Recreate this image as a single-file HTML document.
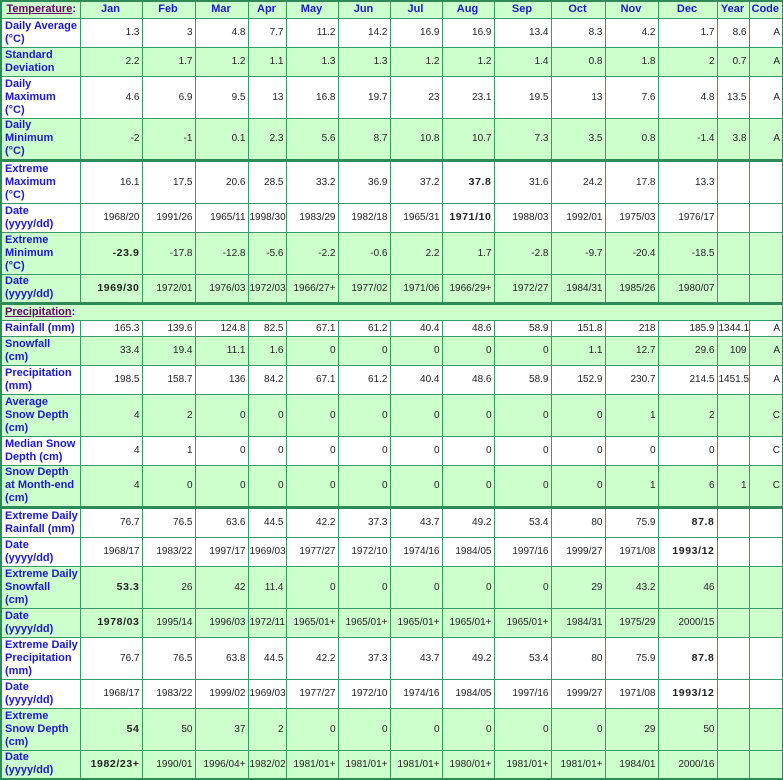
<!DOCTYPE html>
<html><head><meta charset="utf-8"><style>
html,body{margin:0;padding:0;background:#fff;width:783px;height:780px;overflow:hidden}
table{border-collapse:collapse;table-layout:fixed;position:absolute;left:0;top:0;width:782px;border:2px solid #2e8b57;font-family:"Liberation Sans",Arial,sans-serif;font-size:10px;color:#222}
td{border:1px solid #3a9a68;padding:0 2px 0 1px;text-align:right;vertical-align:middle;overflow:hidden;white-space:nowrap;line-height:13px}
td:first-child{text-align:left;font-weight:bold;color:#1a1acc;padding-left:3px;font-size:11px}
tr.g td{background:#ccffcc}
tr.h td{text-align:center;font-weight:bold;color:#1a1acc;font-size:11px}
tr.s td{border-top:3px solid #2e8b57}
b{letter-spacing:0.6px;font-size:10.5px}
u{color:#660066}
</style></head><body>
<table>
<colgroup><col style="width:79px"><col style="width:62px"><col style="width:53px"><col style="width:53px"><col style="width:38px"><col style="width:52px"><col style="width:52px"><col style="width:52px"><col style="width:52px"><col style="width:57px"><col style="width:54px"><col style="width:53px"><col style="width:59px"><col style="width:32px"><col style="width:34px"></colgroup>
<tr class="g h" style="height:17px"><td><u>Temperature</u>:</td><td>Jan</td><td>Feb</td><td>Mar</td><td>Apr</td><td>May</td><td>Jun</td><td>Jul</td><td>Aug</td><td>Sep</td><td>Oct</td><td>Nov</td><td>Dec</td><td>Year</td><td>Code</td></tr>
<tr style="height:29px"><td>Daily Average<br>(°C)</td><td>1.3</td><td>3</td><td>4.8</td><td>7.7</td><td>11.2</td><td>14.2</td><td>16.9</td><td>16.9</td><td>13.4</td><td>8.3</td><td>4.2</td><td>1.7</td><td>8.6</td><td>A</td></tr>
<tr class="g" style="height:29px"><td>Standard<br>Deviation</td><td>2.2</td><td>1.7</td><td>1.2</td><td>1.1</td><td>1.3</td><td>1.3</td><td>1.2</td><td>1.2</td><td>1.4</td><td>0.8</td><td>1.8</td><td>2</td><td>0.7</td><td>A</td></tr>
<tr style="height:42px"><td>Daily<br>Maximum<br>(°C)</td><td>4.6</td><td>6.9</td><td>9.5</td><td>13</td><td>16.8</td><td>19.7</td><td>23</td><td>23.1</td><td>19.5</td><td>13</td><td>7.6</td><td>4.8</td><td>13.5</td><td>A</td></tr>
<tr class="g" style="height:42px"><td>Daily<br>Minimum<br>(°C)</td><td>-2</td><td>-1</td><td>0.1</td><td>2.3</td><td>5.6</td><td>8.7</td><td>10.8</td><td>10.7</td><td>7.3</td><td>3.5</td><td>0.8</td><td>-1.4</td><td>3.8</td><td>A</td></tr>
<tr class="s" style="height:43px"><td>Extreme<br>Maximum<br>(°C)</td><td>16.1</td><td>17.5</td><td>20.6</td><td>28.5</td><td>33.2</td><td>36.9</td><td>37.2</td><td><b>37.8</b></td><td>31.6</td><td>24.2</td><td>17.8</td><td>13.3</td><td></td><td></td></tr>
<tr style="height:29px"><td>Date<br>(yyyy/dd)</td><td>1968/20</td><td>1991/26</td><td>1965/11</td><td>1998/30</td><td>1983/29</td><td>1982/18</td><td>1965/31</td><td><b>1971/10</b></td><td>1988/03</td><td>1992/01</td><td>1975/03</td><td>1976/17</td><td></td><td></td></tr>
<tr class="g" style="height:42px"><td>Extreme<br>Minimum<br>(°C)</td><td><b>-23.9</b></td><td>-17.8</td><td>-12.8</td><td>-5.6</td><td>-2.2</td><td>-0.6</td><td>2.2</td><td>1.7</td><td>-2.8</td><td>-9.7</td><td>-20.4</td><td>-18.5</td><td></td><td></td></tr>
<tr class="g" style="height:29px"><td>Date<br>(yyyy/dd)</td><td><b>1969/30</b></td><td>1972/01</td><td>1976/03</td><td>1972/03</td><td>1966/27+</td><td>1977/02</td><td>1971/06</td><td>1966/29+</td><td>1972/27</td><td>1984/31</td><td>1985/26</td><td>1980/07</td><td></td><td></td></tr>
<tr class="g s" style="height:17px"><td colspan="15" style="color:#1a1acc"><u>Precipitation</u>:</td></tr>
<tr style="height:16px"><td>Rainfall (mm)</td><td>165.3</td><td>139.6</td><td>124.8</td><td>82.5</td><td>67.1</td><td>61.2</td><td>40.4</td><td>48.6</td><td>58.9</td><td>151.8</td><td>218</td><td>185.9</td><td>1344.1</td><td>A</td></tr>
<tr class="g" style="height:29px"><td>Snowfall<br>(cm)</td><td>33.4</td><td>19.4</td><td>11.1</td><td>1.6</td><td>0</td><td>0</td><td>0</td><td>0</td><td>0</td><td>1.1</td><td>12.7</td><td>29.6</td><td>109</td><td>A</td></tr>
<tr style="height:29px"><td>Precipitation<br>(mm)</td><td>198.5</td><td>158.7</td><td>136</td><td>84.2</td><td>67.1</td><td>61.2</td><td>40.4</td><td>48.6</td><td>58.9</td><td>152.9</td><td>230.7</td><td>214.5</td><td>1451.5</td><td>A</td></tr>
<tr class="g" style="height:42px"><td>Average<br>Snow Depth<br>(cm)</td><td>4</td><td>2</td><td>0</td><td>0</td><td>0</td><td>0</td><td>0</td><td>0</td><td>0</td><td>0</td><td>1</td><td>2</td><td></td><td>C</td></tr>
<tr style="height:29px"><td>Median Snow<br>Depth (cm)</td><td>4</td><td>1</td><td>0</td><td>0</td><td>0</td><td>0</td><td>0</td><td>0</td><td>0</td><td>0</td><td>0</td><td>0</td><td></td><td>C</td></tr>
<tr class="g" style="height:42px"><td>Snow Depth<br>at Month-end<br>(cm)</td><td>4</td><td>0</td><td>0</td><td>0</td><td>0</td><td>0</td><td>0</td><td>0</td><td>0</td><td>0</td><td>1</td><td>6</td><td>1</td><td>C</td></tr>
<tr class="s" style="height:30px"><td>Extreme Daily<br>Rainfall (mm)</td><td>76.7</td><td>76.5</td><td>63.6</td><td>44.5</td><td>42.2</td><td>37.3</td><td>43.7</td><td>49.2</td><td>53.4</td><td>80</td><td>75.9</td><td><b>87.8</b></td><td></td><td></td></tr>
<tr style="height:29px"><td>Date<br>(yyyy/dd)</td><td>1968/17</td><td>1983/22</td><td>1997/17</td><td>1969/03</td><td>1977/27</td><td>1972/10</td><td>1974/16</td><td>1984/05</td><td>1997/16</td><td>1999/27</td><td>1971/08</td><td><b>1993/12</b></td><td></td><td></td></tr>
<tr class="g" style="height:42px"><td>Extreme Daily<br>Snowfall<br>(cm)</td><td><b>53.3</b></td><td>26</td><td>42</td><td>11.4</td><td>0</td><td>0</td><td>0</td><td>0</td><td>0</td><td>29</td><td>43.2</td><td>46</td><td></td><td></td></tr>
<tr class="g" style="height:29px"><td>Date<br>(yyyy/dd)</td><td><b>1978/03</b></td><td>1995/14</td><td>1996/03</td><td>1972/11</td><td>1965/01+</td><td>1965/01+</td><td>1965/01+</td><td>1965/01+</td><td>1965/01+</td><td>1984/31</td><td>1975/29</td><td>2000/15</td><td></td><td></td></tr>
<tr style="height:42px"><td>Extreme Daily<br>Precipitation<br>(mm)</td><td>76.7</td><td>76.5</td><td>63.8</td><td>44.5</td><td>42.2</td><td>37.3</td><td>43.7</td><td>49.2</td><td>53.4</td><td>80</td><td>75.9</td><td><b>87.8</b></td><td></td><td></td></tr>
<tr style="height:29px"><td>Date<br>(yyyy/dd)</td><td>1968/17</td><td>1983/22</td><td>1999/02</td><td>1969/03</td><td>1977/27</td><td>1972/10</td><td>1974/16</td><td>1984/05</td><td>1997/16</td><td>1999/27</td><td>1971/08</td><td><b>1993/12</b></td><td></td><td></td></tr>
<tr class="g" style="height:42px"><td>Extreme<br>Snow Depth<br>(cm)</td><td><b>54</b></td><td>50</td><td>37</td><td>2</td><td>0</td><td>0</td><td>0</td><td>0</td><td>0</td><td>0</td><td>29</td><td>50</td><td></td><td></td></tr>
<tr class="g" style="height:29px"><td>Date<br>(yyyy/dd)</td><td><b>1982/23+</b></td><td>1990/01</td><td>1996/04+</td><td>1982/02</td><td>1981/01+</td><td>1981/01+</td><td>1981/01+</td><td>1980/01+</td><td>1981/01+</td><td>1981/01+</td><td>1984/01</td><td>2000/16</td><td></td><td></td></tr>
</table>
</body></html>
